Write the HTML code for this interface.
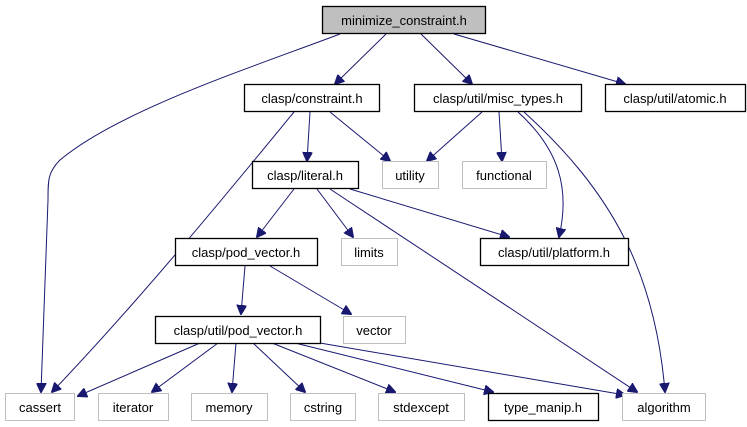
<!DOCTYPE html>
<html><head><meta charset="utf-8"><style>
html,body{margin:0;padding:0;background:#fff;}
svg{display:block}
text{font-family:"Liberation Sans","DejaVu Sans",sans-serif;font-size:13px;fill:#000}
.b{fill:#fff;stroke:#000;stroke-width:1.3}
.g{fill:#fff;stroke:#bfbfbf;stroke-width:1}
.e{fill:none;stroke:#191970;stroke-width:1}
</style></head><body>
<svg width="747" height="427" viewBox="0 0 747 427" xmlns="http://www.w3.org/2000/svg">
<defs><marker id="a" markerWidth="10" markerHeight="10" refX="9" refY="5" orient="auto" markerUnits="userSpaceOnUse"><path d="M0,0 L10,5 L0,10 z" fill="#191970" stroke="#191970"/></marker></defs>
<path class="e" marker-end="url(#a)" d="M340,34 C250,68 120,110 60,160 C48,172 48,180 48,200 L41,392"/>
<path class="e" marker-end="url(#a)" d="M386,34 L335,84"/>
<path class="e" marker-end="url(#a)" d="M421,34 L472,84"/>
<path class="e" marker-end="url(#a)" d="M454,34 L625,84"/>
<path class="e" marker-end="url(#a)" d="M294,112 C230,190 140,300 52,392"/>
<path class="e" marker-end="url(#a)" d="M310,112 L307,161"/>
<path class="e" marker-end="url(#a)" d="M330,112 L390,161"/>
<path class="e" marker-end="url(#a)" d="M482,112 L427,161"/>
<path class="e" marker-end="url(#a)" d="M499,112 L502,161"/>
<path class="e" marker-end="url(#a)" d="M518,112 C560,150 570,190 559,237"/>
<path class="e" marker-end="url(#a)" d="M524,112 C610,190 655,270 665,392"/>
<path class="e" marker-end="url(#a)" d="M294,189 L257,237"/>
<path class="e" marker-end="url(#a)" d="M317,189 L353,237"/>
<path class="e" marker-end="url(#a)" d="M330,189 L637,392"/>
<path class="e" marker-end="url(#a)" d="M350,189 L509,237"/>
<path class="e" marker-end="url(#a)" d="M245,266 L241,314"/>
<path class="e" marker-end="url(#a)" d="M270,266 L351,314"/>
<path class="e" marker-end="url(#a)" d="M200,343 L78,396"/>
<path class="e" marker-end="url(#a)" d="M218,343 L152,392"/>
<path class="e" marker-end="url(#a)" d="M236,343 L232,392"/>
<path class="e" marker-end="url(#a)" d="M253,343 L305,392"/>
<path class="e" marker-end="url(#a)" d="M272,343 L395,392"/>
<path class="e" marker-end="url(#a)" d="M295,343 L493,392"/>
<path class="e" marker-end="url(#a)" d="M320,343 L625,395"/>
<rect x="322.5" y="6.5" width="163" height="27" fill="#bfbfbf" stroke="#000" stroke-width="1.3"/>
<text x="404" y="25" text-anchor="middle">minimize_constraint.h</text>
<rect class="b" x="244.5" y="84.5" width="135" height="27"/><text x="312" y="103" text-anchor="middle">clasp/constraint.h</text>
<rect class="b" x="414.5" y="84.5" width="167" height="27"/><text x="498" y="103" text-anchor="middle">clasp/util/misc_types.h</text>
<rect class="b" x="605.5" y="84.5" width="140" height="27"/><text x="675" y="103" text-anchor="middle">clasp/util/atomic.h</text>
<rect class="b" x="252.5" y="161.5" width="106" height="27"/><text x="305" y="180" text-anchor="middle">clasp/literal.h</text>
<rect class="g" x="382.5" y="161.5" width="56" height="27"/><text x="410" y="180" text-anchor="middle">utility</text>
<rect class="g" x="462.5" y="161.5" width="84" height="27"/><text x="504" y="180" text-anchor="middle">functional</text>
<rect class="b" x="175.5" y="238.5" width="142" height="27"/><text x="246" y="257" text-anchor="middle">clasp/pod_vector.h</text>
<rect class="g" x="341.5" y="238.5" width="56" height="27"/><text x="369" y="257" text-anchor="middle">limits</text>
<rect class="b" x="480.5" y="238.5" width="148" height="27"/><text x="554" y="257" text-anchor="middle">clasp/util/platform.h</text>
<rect class="b" x="155.5" y="316.5" width="165" height="27"/><text x="238" y="335" text-anchor="middle">clasp/util/pod_vector.h</text>
<rect class="g" x="343.5" y="316.5" width="62" height="27"/><text x="374" y="335" text-anchor="middle">vector</text>
<rect class="g" x="5.5" y="393.5" width="69" height="27"/><text x="40" y="412" text-anchor="middle">cassert</text>
<rect class="g" x="98.5" y="393.5" width="70" height="27"/><text x="133" y="412" text-anchor="middle">iterator</text>
<rect class="g" x="191.5" y="393.5" width="76" height="27"/><text x="229" y="412" text-anchor="middle">memory</text>
<rect class="g" x="290.5" y="393.5" width="65" height="27"/><text x="323" y="412" text-anchor="middle">cstring</text>
<rect class="g" x="378.5" y="393.5" width="86" height="27"/><text x="421" y="412" text-anchor="middle">stdexcept</text>
<rect class="b" x="488.5" y="393.5" width="110" height="27"/><text x="543" y="412" text-anchor="middle">type_manip.h</text>
<rect class="g" x="622.5" y="393.5" width="83" height="27"/><text x="664" y="412" text-anchor="middle">algorithm</text>
</svg>
</body></html>
